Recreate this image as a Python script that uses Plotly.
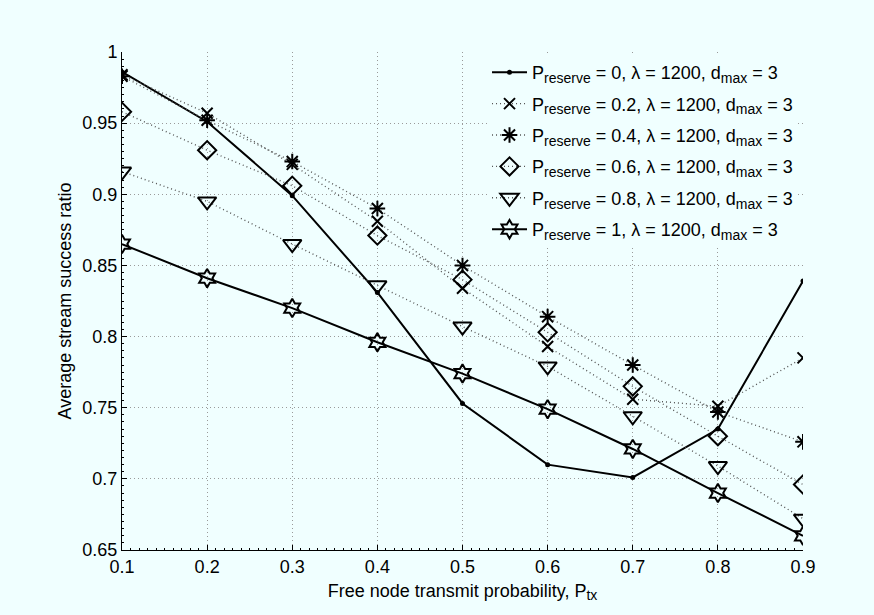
import plotly.graph_objects as go

x_vals = [0.1, 0.2, 0.3, 0.4, 0.5, 0.6, 0.7, 0.8, 0.9]

y_r00 = [0.986, 0.951, 0.899, 0.831, 0.753, 0.710, 0.701, 0.735, 0.839]
y_r02 = [0.984, 0.957, 0.921, 0.881, 0.834, 0.793, 0.756, 0.751, 0.785]
y_r04 = [0.983, 0.952, 0.923, 0.890, 0.850, 0.814, 0.780, 0.747, 0.726]
y_r06 = [0.958, 0.931, 0.906, 0.871, 0.840, 0.803, 0.765, 0.730, 0.696]
y_r08 = [0.916, 0.895, 0.865, 0.836, 0.807, 0.779, 0.744, 0.709, 0.672]
y_r10 = [0.865, 0.841, 0.820, 0.796, 0.774, 0.749, 0.721, 0.690, 0.660]

p_reserve = ["0", "0.2", "0.4", "0.6", "0.8", "1"]
series = [y_r00, y_r02, y_r04, y_r06, y_r08, y_r10]
symbols = ["circle", "x-thin-open", "asterisk-open", "diamond-open", "triangle-down-open", "hexagram-open"]
sizes = [5, 11, 13, 14, 16, 14]
dashes = ["solid", "dot", "dot", "dot", "dot", "solid"]

y_ticks = [0.65, 0.7, 0.75, 0.8, 0.85, 0.9, 0.95, 1.0]
y_ticktext = ["0.65", "0.7", "0.75", "0.8", "0.85", "0.9", "0.95", "1"]
x_ticks = [0.1, 0.2, 0.3, 0.4, 0.5, 0.6, 0.7, 0.8, 0.9]
x_ticktext = ["0.1", "0.2", "0.3", "0.4", "0.5", "0.6", "0.7", "0.8", "0.9"]

BG = "#F0FFFF"
FONT = "Liberation Sans, Arial, sans-serif"
SUB = "<sub><span style='font-size:14px'>{}</span></sub>"

fig = go.Figure()
for i, (pr, ys, sym, sz, dash) in enumerate(zip(p_reserve, series, symbols, sizes, dashes)):
    solid = dash == "solid"
    fig.add_trace(go.Scatter(
        x=x_vals, y=ys, mode="lines+markers",
        legendgroup=f"g{i}",
        name="P" + SUB.format("reserve") + f" = {pr}, \u03bb = 1200, d" + SUB.format("max") + " = 3",
        line=dict(color="black" if solid else "#555555", width=2 if solid else 1.4,
                  dash="solid" if solid else "1px,3px"),
        marker=dict(symbol=sym, size=sz, color="black",
                    line=dict(color="black", width=2 if sym != "circle" else 0)),
    ))

grid_common = dict(showgrid=True, gridcolor="#9a9a9a", griddash="1px,3px", gridwidth=1,
                   showline=True, linecolor="black", linewidth=1, mirror=False,
                   ticks="inside", ticklen=5, tickcolor="black", zeroline=False,
                   tickfont=dict(size=18))

fig.update_layout(
    width=874, height=615,
    margin=dict(l=122, r=71, t=52, b=65),
    paper_bgcolor=BG, plot_bgcolor=BG,
    font=dict(family=FONT, size=18, color="black"),
    showlegend=True,
    legend=dict(x=0.536, y=0.996, xanchor="left", yanchor="top",
                bgcolor=BG, borderwidth=0, font=dict(size=18),
                itemwidth=35, tracegroupgap=5),
    xaxis=dict(range=[0.1, 0.9], tickvals=x_ticks, ticktext=x_ticktext,
               minor=dict(dtick=0.01, ticks="inside", ticklen=2, tickcolor="black", showgrid=False),
               title=dict(text="Free node transmit probability, P" + SUB.format("tx"), standoff=8,
                          font=dict(size=18)),
               **grid_common),
    yaxis=dict(range=[0.65, 1.0], tickvals=y_ticks, ticktext=y_ticktext,
               minor=dict(dtick=0.005, ticks="inside", ticklen=2, tickcolor="black", showgrid=False),
               title=dict(text="Average stream success ratio", standoff=6,
                          font=dict(size=18)),
               **grid_common),
)

fig.write_html("out.html")
